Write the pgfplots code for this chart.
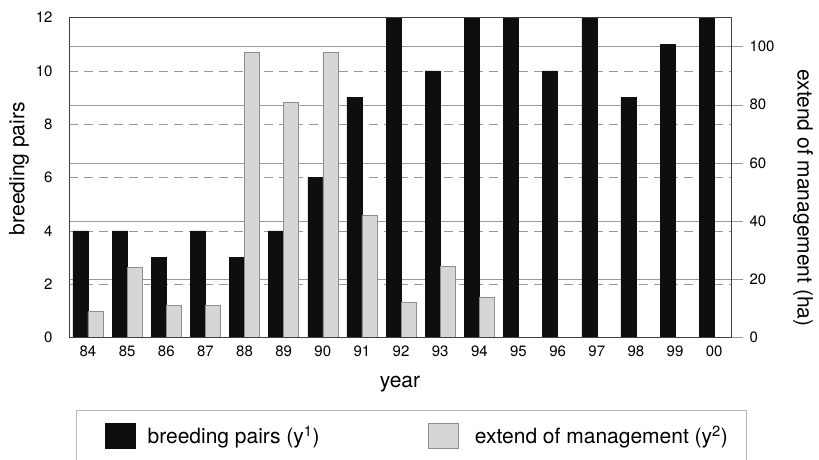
\documentclass[border=0pt]{standalone}
\usepackage{pgfplots}
\pgfplotsset{compat=1.18}
\usepackage{fontspec}
\setmainfont{TeX Gyre Heros}
\definecolor{barblack}{HTML}{0E0E0E}
\definecolor{bargrey}{HTML}{D6D6D6}
\definecolor{bargreyedge}{HTML}{8E8E8E}
\definecolor{gridgrey}{HTML}{9A9A9A}
\definecolor{boxgrey}{HTML}{B8B8B8}
\pgfplotsset{
  base/.style={
    at={(0pt,0pt)}, anchor=south west,
    scale only axis, width=662pt, height=320pt,
    xmin=-0.485, xmax=16.43,
    /pgf/number format/assume math mode=true,
    tick label style={font=\fontsize{15}{15}\selectfont},
    label style={font=\fontsize{21}{21}\selectfont},
  }
}
\begin{document}
\begin{tikzpicture}
% right-scale grid, ticks and labels
\begin{axis}[base,
  ymin=0, ymax=110,
  axis y line*=right, axis x line=none,
  y axis line style={draw=none},
  ytick={0,20,...,100},
  ymajorgrids, grid style={gridgrey, line width=0.5pt},
  tick align=outside, major tick length=12pt,
  y tick style={gridgrey, line width=0.5pt},
  yticklabel shift=3pt,
  ylabel={extend of management (ha)},
  ylabel style={at={(axis description cs:1.1088,0.436)}, anchor=center, rotate=180},
  xtick=\empty,
]
\addplot[draw=none] coordinates {(0,0)};
\end{axis}
% left scale: breeding pairs
\begin{axis}[base,
  ymin=0, ymax=12,
  ytick={0,2,...,12},
  ymajorgrids, grid style={gridgrey, line width=0.5pt, dash pattern=on 9pt off 6pt},
  major tick length=0pt,
  yticklabel shift=13pt,
  xtick={0,...,16},
  xticklabels={84,85,86,87,88,89,90,91,92,93,94,95,96,97,98,99,00},
  xticklabel shift=5pt,
  axis line style={draw=none},
  ylabel={breeding pairs},
  ylabel style={at={(axis description cs:-0.0755,0.528)}, anchor=center},
  xlabel={year},
  xlabel style={at={(axis description cs:0.5,0)}, anchor=center, yshift=-46.5pt},
  ybar, bar width=15pt,
  legend columns=2,
  legend style={at={(axis description cs:0.0544,-0.306)}, anchor=west,
    draw=none, fill=none, inner sep=0pt,
    font=\fontsize{21}{21}\selectfont,
    nodes={inner sep=0pt},
    /tikz/column 1/.style={column sep=12pt},
    /tikz/column 2/.style={column sep=108pt},
    /tikz/column 3/.style={column sep=17pt},
  },
  legend image code/.code={\draw[#1] (0pt,-12.5pt) rectangle (30pt,12.5pt);},
]
\addplot[fill=barblack, draw=barblack, bar shift=-7.5pt] coordinates {
  (0,4) (1,4) (2,3) (3,4) (4,3) (5,4) (6,6) (7,9) (8,12)
  (9,10) (10,12) (11,12) (12,10) (13,12) (14,9) (15,11) (16,12)};
\addlegendentry{breeding pairs (y\textsuperscript{1})}
\addlegendimage{fill=bargrey, draw=bargreyedge}
\addlegendentry{extend of management (y\textsuperscript{2})}
\end{axis}
% right scale: extent of management bars, and the frame on top
\begin{axis}[base,
  ymin=0, ymax=110,
  xtick=\empty, ytick=\empty,
  axis on top,
  axis line style={black!75, line width=0.7pt},
  ybar, bar width=15pt,
]
\addplot[fill=bargrey, draw=bargreyedge, line width=0.5pt, bar shift=7.5pt] coordinates {
  (0,9) (1,24) (2,11) (3,11) (4,98) (5,81) (6,98) (7,42) (8,12) (9,24.5) (10,14)};
\end{axis}
% legend frame (cut by the page bottom as in the reference)
\draw[boxgrey, line width=0.6pt] (7pt,-122.5pt) -- (7pt,-72.5pt) -- (677pt,-72.5pt) -- (677pt,-122.5pt);
\pgfresetboundingbox
\path[use as bounding box] (-69pt,-122.5pt) rectangle (750pt,337.5pt);
\end{tikzpicture}
\end{document}
